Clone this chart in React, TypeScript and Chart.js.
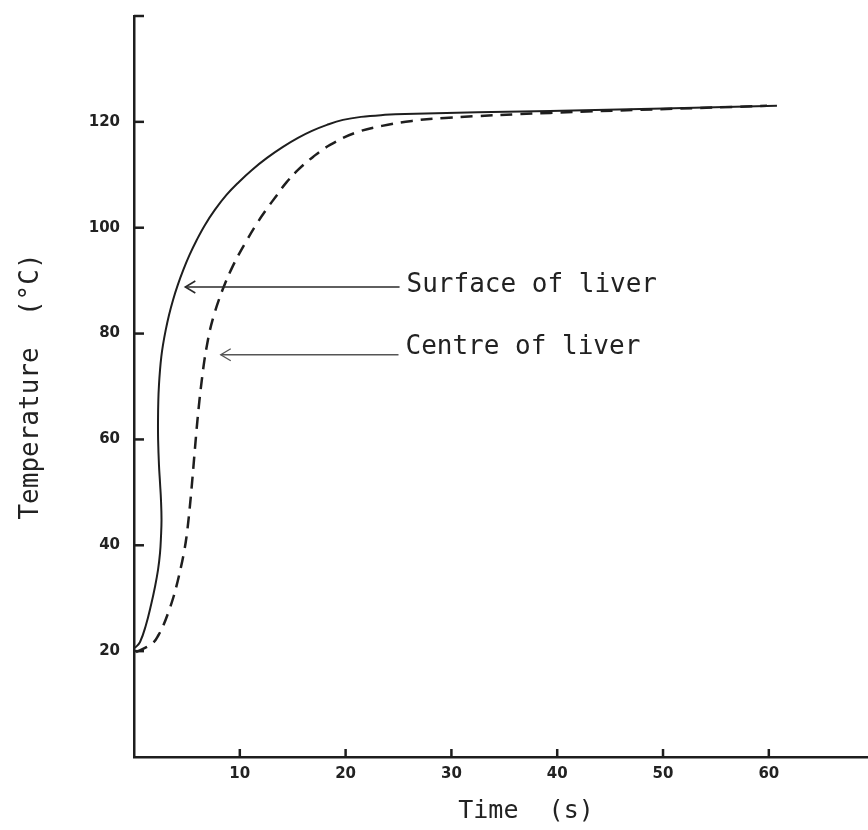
import React, { useEffect, useRef } from "react";
import { Chart, registerables } from "chart.js";

Chart.register(...registerables);

// Surface of liver (solid curve)
const surfaceTime = [0.09, 0.57, 1.13, 1.61, 1.98, 2.27, 2.46, 2.55, 2.6, 2.55, 2.46, 2.36, 2.28, 2.27, 2.3, 2.36, 2.46, 2.58, 2.74, 3.0, 3.31, 3.69, 4.14, 4.66, 5.25, 5.93, 6.71, 7.64, 8.74, 9.92, 11.15, 12.57, 14.08, 15.5, 16.82, 18.24, 19.75, 21.46, 23.72, 25.61, 39.32, 60.77];
const surfaceTemp = [20.6, 21.73, 24.94, 28.72, 32.12, 35.34, 38.55, 41.57, 44.78, 48.56, 51.78, 55.18, 59.9, 63.68, 67.46, 70.29, 73.13, 75.59, 77.85, 80.69, 83.52, 86.36, 89.19, 92.03, 94.86, 97.69, 100.53, 103.36, 106.2, 108.65, 110.92, 113.19, 115.27, 116.97, 118.29, 119.43, 120.37, 120.94, 121.32, 121.5, 122.07, 123.02];

// Centre of liver (dashed curve)
const centreTime = [0.19, 1.04, 1.8, 2.32, 2.79, 3.26, 3.73, 4.11, 4.44, 4.73, 4.96, 5.15, 5.34, 5.51, 5.67, 5.83, 6.0, 6.19, 6.41, 6.66, 6.9, 7.18, 7.56, 8.02, 8.55, 9.17, 9.88, 10.68, 11.53, 12.48, 13.52, 14.37, 15.5, 16.92, 18.53, 20.89, 23.44, 26.28, 29.4, 39.32, 59.83];
const centreTemp = [19.84, 20.6, 21.54, 23.05, 24.94, 27.4, 30.23, 33.07, 35.9, 38.74, 41.57, 44.78, 48.56, 52.34, 56.12, 59.9, 63.68, 67.46, 71.24, 75.02, 77.85, 80.69, 83.52, 86.36, 89.19, 92.03, 94.86, 97.69, 100.53, 103.36, 106.2, 108.47, 110.92, 113.38, 115.65, 117.91, 119.24, 120.18, 120.75, 121.69, 123.02];

// Axis ticks
const xLabelValues = [10, 20, 30, 40, 50, 60];
const yLabelValues = [20, 40, 60, 80, 100, 120];
const xMarkValues = [10, 20, 30, 40, 50, 60, 70];
const yMarkValues = [20, 40, 60, 80, 100, 120, 140];

// Annotations (text + arrow, in data units)
const annotationText = ["Surface of liver", "Centre of liver"];
const annotationY = [88.8, 76];
const annotationTipX = [4.85, 8.2];
const annotationTailX = [25.1, 25.0];

const X_MIN = 0;
const X_MAX = 74.1;
const Y_MIN = 0;
const Y_MAX = 140;

const INK = "#1e1e1e";
const MONO = "'DejaVu Sans Mono', 'Liberation Mono', monospace";

const decorPlugin = {
  id: "decor",
  afterDraw(chart: any) {
    const { ctx, chartArea, scales } = chart;
    const x = scales.x;
    const y = scales.y;
    ctx.save();
    // inward tick marks
    ctx.strokeStyle = INK;
    ctx.lineWidth = 2.5;
    yMarkValues.forEach((v) => {
      const py = y.getPixelForValue(v);
      ctx.beginPath();
      ctx.moveTo(chartArea.left, py);
      ctx.lineTo(chartArea.left + 10, py);
      ctx.stroke();
    });
    xMarkValues.forEach((v) => {
      const px = x.getPixelForValue(v);
      ctx.beginPath();
      ctx.moveTo(px, chartArea.bottom);
      ctx.lineTo(px, chartArea.bottom - 8);
      ctx.stroke();
    });
    // annotations
    annotationText.forEach((t, i) => {
      const py = y.getPixelForValue(annotationY[i]);
      const tip = x.getPixelForValue(annotationTipX[i]);
      const tail = x.getPixelForValue(annotationTailX[i]);
      ctx.strokeStyle = i === 0 ? "#2a2a2a" : "#555";
      ctx.lineWidth = i === 0 ? 1.6 : 1.3;
      ctx.beginPath();
      ctx.moveTo(tail, py);
      ctx.lineTo(tip, py);
      ctx.stroke();
      ctx.beginPath();
      ctx.moveTo(tip + 10, py - 6);
      ctx.lineTo(tip, py);
      ctx.lineTo(tip + 10, py + 6);
      ctx.stroke();
      ctx.fillStyle = "#222";
      ctx.font = "26px " + MONO;
      ctx.textBaseline = "middle";
      ctx.textAlign = "left";
      ctx.fillText(t, tail + 7, py + (i === 0 ? -2 : -7));
    });
    ctx.restore();
  },
};

export default function App() {
  const ref = useRef<HTMLCanvasElement | null>(null);

  useEffect(() => {
    if (!ref.current) return;
    const chart = new Chart(ref.current, {
      type: "scatter",
      data: {
        datasets: [
          {
            label: "Surface of liver",
            data: surfaceTime.map((t, i) => ({ x: t, y: surfaceTemp[i] })),
            showLine: true,
            borderColor: INK,
            borderWidth: 2,
            pointRadius: 0,
            tension: 0.4,
            fill: false,
          },
          {
            label: "Centre of liver",
            data: centreTime.map((t, i) => ({ x: t, y: centreTemp[i] })),
            showLine: true,
            borderColor: INK,
            borderWidth: 2.5,
            borderDash: [12, 8],
            pointRadius: 0,
            tension: 0.4,
            fill: false,
          },
        ],
      },
      options: {
        responsive: false,
        animation: false,
        devicePixelRatio: 1,
        layout: { padding: { top: 8, right: 0, bottom: 0, left: 0 } },
        plugins: {
          legend: { display: false },
          tooltip: { enabled: false },
        },
        scales: {
          x: {
            type: "linear",
            min: X_MIN,
            max: X_MAX,
            grid: { display: false, drawTicks: false },
            border: { display: true, color: INK, width: 2.5 },
            ticks: {
              stepSize: 10,
              includeBounds: false,
              autoSkip: false,
              maxRotation: 0,
              padding: 8,
              color: "#222",
              font: { family: "'DejaVu Sans', sans-serif", size: 15, weight: "bold" },
              callback: (v: any) => (xLabelValues.includes(Number(v)) ? String(v) : null),
            },
            title: {
              display: true,
              text: "Time  (s)",
              color: "#222",
              font: { family: MONO, size: 25 },
              padding: { top: 0, bottom: 4 },
            },
            afterFit: (s: any) => {
              s.height = 73;
            },
          },
          y: {
            type: "linear",
            min: Y_MIN,
            max: Y_MAX,
            grid: { display: false, drawTicks: false },
            border: { display: true, color: INK, width: 2.5 },
            ticks: {
              stepSize: 20,
              autoSkip: false,
              padding: 14,
              color: "#222",
              font: { family: "'DejaVu Sans', sans-serif", size: 15, weight: "bold" },
              callback: (v: any) => (yLabelValues.includes(Number(v)) ? String(v) : null),
            },
            title: {
              display: true,
              text: "Temperature  (°C)",
              color: "#222",
              font: { family: MONO, size: 26 },
              padding: { top: 16, bottom: 0 },
            },
            afterFit: (s: any) => {
              s.width = 134;
            },
          },
        },
      },
      plugins: [decorPlugin],
    });
    return () => chart.destroy();
  }, []);

  return (
    <div
      style={{
        position: "fixed",
        left: 0,
        top: 0,
        width: 868,
        height: 830,
        overflow: "hidden",
        background: "#fff",
      }}
    >
      <canvas ref={ref} width={918} height={837} style={{ display: "block", marginTop: -7 }} />
    </div>
  );
}
